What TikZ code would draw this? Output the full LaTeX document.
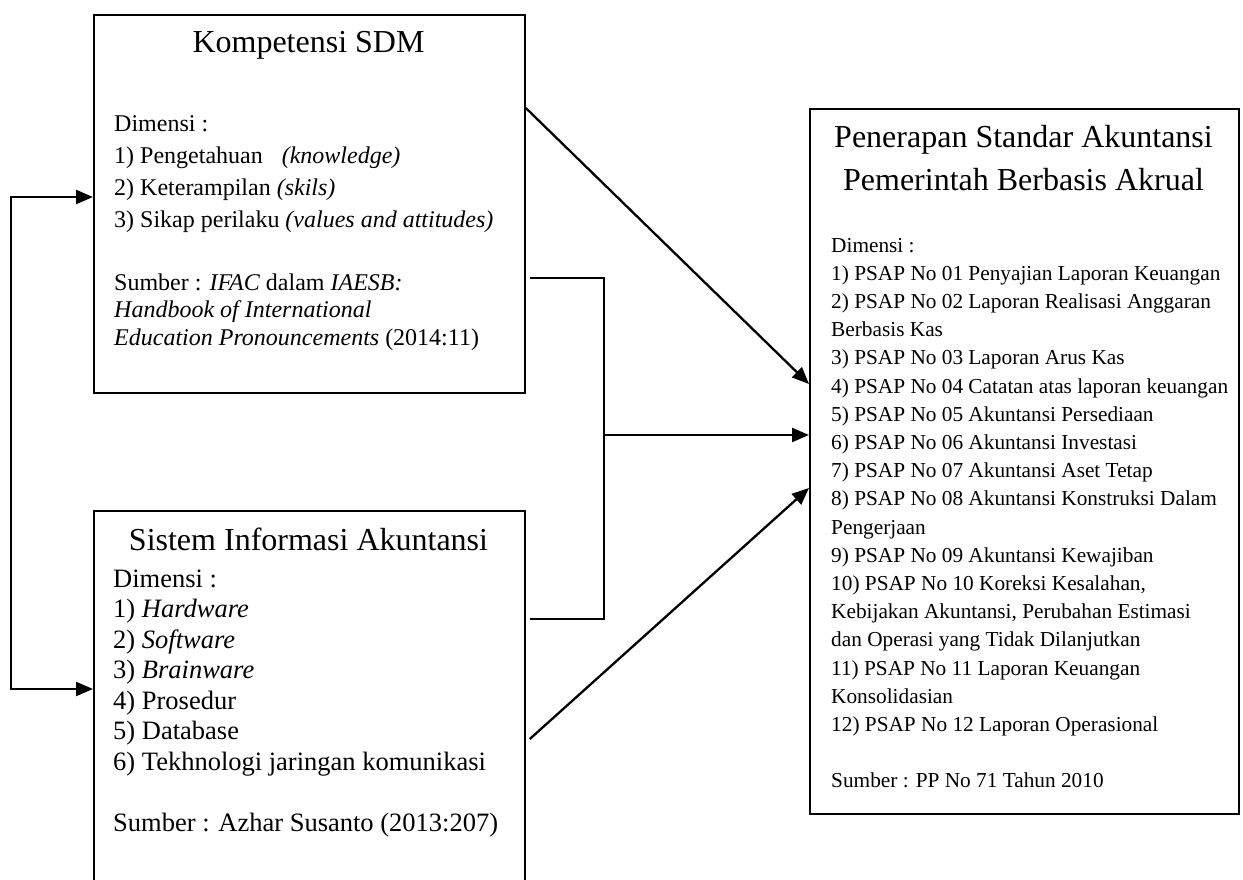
\documentclass[tikz,border=0pt]{standalone}
\usepackage{fontspec}
\setmainfont{Liberation Serif}
\usetikzlibrary{arrows.meta}
\tikzset{
  box/.style={draw, line width=1.8pt, inner sep=0pt, anchor=north west},
  conn/.style={line width=2.3pt},
  tip/.tip={Triangle[length=17pt,width=14pt]},
  arr/.style={conn, -tip},
  ttl/.style={inner sep=0pt, anchor=base, font=\fontsize{32}{40}\selectfont},
  txtA/.style={inner sep=0pt, anchor=base west, font=\fontsize{24}{28}\selectfont},
  txtB/.style={inner sep=0pt, anchor=base west, font=\fontsize{26.5}{30}\selectfont},
  txtC/.style={inner sep=0pt, anchor=base west, font=\fontsize{21.3}{26}\selectfont},
}
\begin{document}
\begin{tikzpicture}[x=1pt,y=-1pt]
\clip (0,0) rectangle (1243,880);
\fill[white] (0,0) rectangle (1243,880);

% boxes
\node[box, minimum width=431pt, minimum height=378pt] (k) at (93,14) {};
\node[box, minimum width=431pt, minimum height=420pt] (s) at (93,510) {};
\node[box, minimum width=429pt, minimum height=705pt] (p) at (809,108) {};

% titles
\node[ttl] (kt) at (308.5,53) {Kompetensi SDM};
\node[ttl] (st) at (308.5,550) {Sistem Informasi Akuntansi};
\node[ttl] (pt1) at (1023.5,148) {Penerapan Standar Akuntansi};
\node[ttl] (pt2) at (1023.5,190) {Pemerintah Berbasis Akrual};

% Kompetensi SDM text
\foreach \t [count=\i from 0] in {Dimensi :,
  {1) Pengetahuan\hspace{19pt}\textit{(knowledge)}},
  {2) Keterampilan \textit{(skils)}},
  {3) Sikap perilaku \textit{(values and attitudes)}}}
  \node[txtA] (ka\i) at (114,{132+31.7*\i}) {\t};
\foreach \t [count=\i from 0] in {{Sumber : \textit{IFAC} dalam \textit{IAESB:}},
  {\textit{Handbook of International}},
  {\textit{Education Pronouncements} (2014:11)}}
  \node[txtA] (kb\i) at (114,{290+27.5*\i}) {\t};

% SIA text
\foreach \t [count=\i from 0] in {Dimensi :,
  {1) \textit{Hardware}},
  {2) \textit{Software}},
  {3) \textit{Brainware}},
  {4) Prosedur},
  {5) Database},
  {6) Tekhnologi jaringan komunikasi}}
  \node[txtB] (sa\i) at (113,{587+30.5*\i}) {\t};
\node[txtB] (sb) at (113,831) {Sumber : Azhar Susanto (2013:207)};

% Penerapan text
\foreach \t [count=\i from 0] in {Dimensi :,
  {1) PSAP No 01 Penyajian Laporan Keuangan},
  {2) PSAP No 02 Laporan Realisasi Anggaran},
  {Berbasis Kas},
  {3) PSAP No 03 Laporan Arus Kas},
  {4) PSAP No 04 Catatan atas laporan keuangan},
  {5) PSAP No 05 Akuntansi Persediaan},
  {6) PSAP No 06 Akuntansi Investasi},
  {7) PSAP No 07 Akuntansi Aset Tetap},
  {8) PSAP No 08 Akuntansi Konstruksi Dalam},
  {Pengerjaan},
  {9) PSAP No 09 Akuntansi Kewajiban},
  {10) PSAP No 10 Koreksi Kesalahan,},
  {Kebijakan Akuntansi, Perubahan Estimasi},
  {dan Operasi yang Tidak Dilanjutkan},
  {11) PSAP No 11 Laporan Keuangan},
  {Konsolidasian},
  {12) PSAP No 12 Laporan Operasional}}
  \node[txtC] (pa\i) at (831,{252+28.2*\i}) {\t};
\node[txtC] (pb) at (831,787.5) {Sumber : PP No 71 Tahun 2010};

% helper coordinates
\coordinate (loopx) at (11,0);
\coordinate (y1) at (0,197);
\coordinate (y2) at (0,689);
\coordinate (bx) at (604,0);
\coordinate (by1) at (0,278);
\coordinate (by2) at (0,619);
\coordinate (ym) at (0,435);
\coordinate (d1s) at (0,108);
\coordinate (d1e) at (0,384);
\coordinate (d2s) at (0,739);
\coordinate (d2e) at (0,488);

% left feedback loop
\draw[conn, tip-tip]
  (k.west |- y1) -- (loopx |- y1) -- (loopx |- y2) -- (s.west |- y2);

% Kompetensi -> Penerapan
\draw[arr] (k.east |- d1s) -- (p.west |- d1e);

% bracket joining both to Penerapan
\draw[conn] ([xshift=4pt]k.east |- by1) -| (bx |- by2) -- ([xshift=4pt]s.east |- by2);
\draw[arr] (bx |- ym) -- (p.west |- ym);

% SIA -> Penerapan
\draw[arr] ([xshift=4pt]s.east |- d2s) -- (p.west |- d2e);
\end{tikzpicture}
\end{document}
